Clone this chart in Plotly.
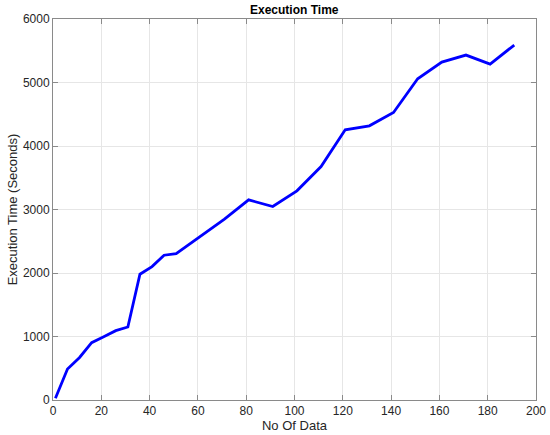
import plotly.graph_objects as go

# values
no_of_data = [1, 6, 11, 16, 21, 26, 31, 36, 41, 46, 51, 61, 71, 81, 91,
              101, 111, 121, 131, 141, 151, 161, 171, 181, 191]
exec_time = [27, 489, 670, 903, 995, 1092, 1150, 1981, 2101, 2280, 2306, 2575, 2848, 3152, 3047,
             3294, 3677, 4255, 4318, 4528, 5059, 5322, 5432, 5290, 5590]

x_ticks = [0, 20, 40, 60, 80, 100, 120, 140, 160, 180, 200]
y_ticks = [0, 1000, 2000, 3000, 4000, 5000, 6000]

font_family = "Liberation Sans, Arial, Helvetica, sans-serif"
axis_col = "#8a8a8a"
grid_col = "#e6e6e6"

fig = go.Figure()
fig.add_trace(go.Scatter(
    x=no_of_data,
    y=exec_time,
    mode="lines",
    line=dict(color="#0000ff", width=2.8),
    showlegend=False,
))

common_axis = dict(
    showline=True,
    linecolor=axis_col,
    linewidth=1,
    mirror="ticks",
    ticks="inside",
    ticklen=5,
    tickcolor=axis_col,
    showgrid=True,
    gridcolor=grid_col,
    gridwidth=1,
    zeroline=False,
    automargin=False,
    tickfont=dict(size=12, color="#262626", family=font_family),
)

fig.update_xaxes(
    range=[0, 200],
    tickvals=x_ticks,
    title=dict(text="No Of Data", font=dict(size=13, color="#262626"), standoff=2),
    **common_axis,
)
fig.update_yaxes(
    range=[0, 6000],
    tickvals=y_ticks,
    title=dict(text="Execution Time (Seconds)", font=dict(size=13, color="#262626"), standoff=2),
    **common_axis,
)

fig.update_layout(
    width=550,
    height=435,
    margin=dict(l=53, r=14, t=19, b=35),
    paper_bgcolor="white",
    plot_bgcolor="white",
    font=dict(family=font_family, color="#262626"),
    title=dict(
        text="<b>Execution Time</b>",
        x=0.535,
        xanchor="center",
        y=0.977,
        yanchor="middle",
        font=dict(size=12, color="black", family=font_family),
    ),
)

# drop the browser's default page margin so the figure sits at the window corner
fig.write_html(
    "out.html",
    config={"displayModeBar": False},
    post_script="document.body.style.margin = '0';",
)
